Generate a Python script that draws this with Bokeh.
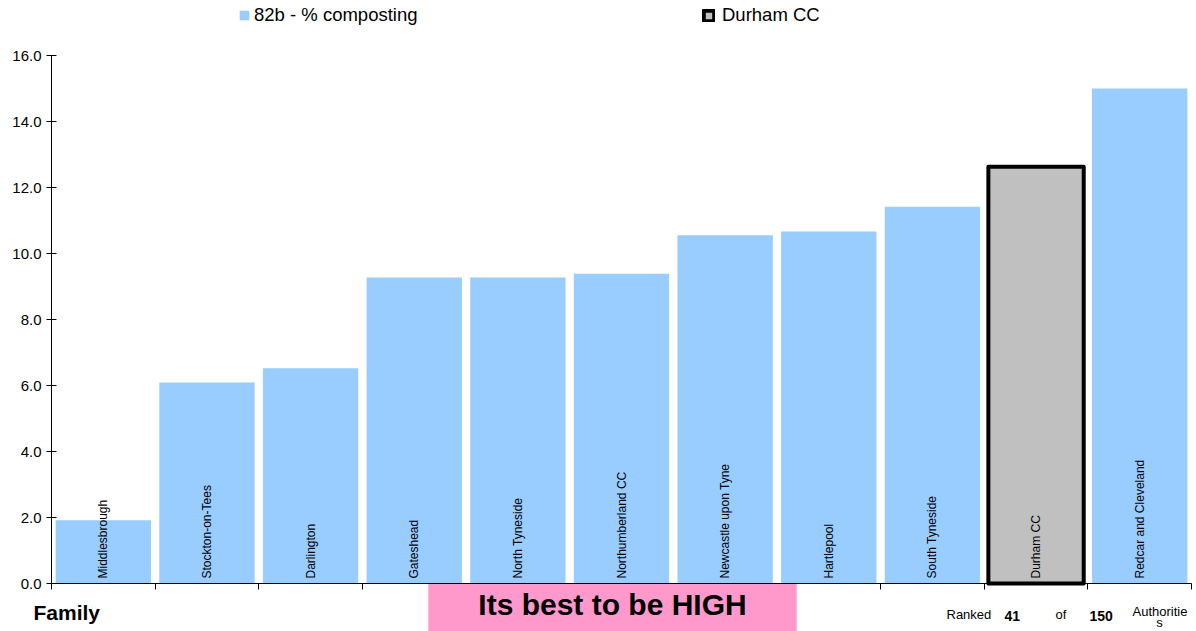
import math
from bokeh.plotting import figure
from bokeh.models import (Range1d, FixedTicker, PrintfTickFormatter, Legend, LegendItem,
                          Label, ColumnDataSource)
from bokeh.core.properties import value
from bokeh.embed import file_html
from bokeh.resources import INLINE

# ---- data ----
names = ["Middlesbrough", "Stockton-on-Tees", "Darlington", "Gateshead", "North Tyneside",
         "Northumberland CC", "Newcastle upon Tyne", "Hartlepool", "South Tyneside",
         "Durham CC", "Redcar and Cleveland"]
values = [1.92, 6.09, 6.52, 9.27, 9.27, 9.39, 10.55, 10.67, 11.42, 12.63, 15.0]
series_name = "82b - % composting"
highlight = "Durham CC"
y_ticks = [0, 2, 4, 6, 8, 10, 12, 14, 16]
family_label = "Family"
banner = "Its best to be HIGH"
rank = 41
total = 150
auth_word = ["Authoritie", "s"]

FONT = "Liberation Sans"
BLUE = "#99CCFF"
GREY = "#C0C0C0"
W, H = 1196, 631

n = len(names)
xs = [i + 0.5 for i in range(n)]
main_idx = [i for i in range(n) if names[i] != highlight]
hi_idx = [i for i in range(n) if names[i] == highlight]

src_main = ColumnDataSource(dict(x=[xs[i] for i in main_idx], top=[values[i] for i in main_idx]))
src_hi = ColumnDataSource(dict(x=[xs[i] for i in hi_idx], top=[values[i] for i in hi_idx]))
src_lab = ColumnDataSource(dict(x=xs, y=[0] * n, text=names))

# frame covers whole canvas; axes are pinned at data 0 (fixed_location)
px_x = (1191 - 51) / n          # pixels per category
px_y = (583 - 55) / 16.0        # pixels per unit
x_range = Range1d(-51 / px_x, n + (W - 1191) / px_x)
y_range = Range1d(-(H - 583) / px_y, 16 + 55 / px_y)

p = figure(width=W, height=H, output_backend="svg", toolbar_location=None,
           x_range=x_range, y_range=y_range,
           min_border_left=0, min_border_right=0, min_border_top=0, min_border_bottom=0)
p.xgrid.visible = False
p.ygrid.visible = False
p.outline_line_color = None
p.background_fill_color = "white"
p.border_fill_color = "white"

r_main = p.vbar(x="x", top="top", width=0.92, source=src_main, fill_color=BLUE, line_color=None)
r_hi = p.vbar(x="x", top="top", width=0.92, source=src_hi, fill_color=GREY,
              line_color="black", line_width=4, line_join="round")

p.text(x="x", y="y", text="text", source=src_lab, angle=math.pi / 2,
       text_align="left", text_baseline="middle", y_offset=-5,
       text_font=value(FONT), text_font_size="12px", text_color="black")

# axes
p.yaxis.fixed_location = 0
p.yaxis.bounds = (0, 16)
p.yaxis.ticker = FixedTicker(ticks=y_ticks)
p.yaxis.formatter = PrintfTickFormatter(format="%.1f")
p.yaxis.major_label_text_font = FONT
p.yaxis.major_label_text_font_size = "15px"
p.yaxis.major_label_text_color = "black"
p.yaxis.major_tick_in = 5
p.yaxis.major_tick_out = 5
p.yaxis.minor_tick_line_color = None
p.yaxis.axis_line_color = "black"
p.yaxis.major_tick_line_color = "black"
p.yaxis.major_label_standoff = 5

p.xaxis.fixed_location = 0
p.xaxis.bounds = (0, n)
p.xaxis.ticker = FixedTicker(ticks=[], minor_ticks=list(range(n + 1)))
p.xaxis.minor_tick_in = 0
p.xaxis.minor_tick_out = 6
p.xaxis.minor_tick_line_color = "black"
p.xaxis.major_tick_line_color = None
p.xaxis.axis_line_color = "black"

# legends (two separate entries placed above the bars)
def make_legend(label, renderer, loc, gw, standoff):
    return Legend(items=[LegendItem(label=label, renderers=[renderer])], location=loc,
                  orientation="horizontal", padding=0, margin=0, spacing=0,
                  glyph_width=gw, glyph_height=gw, label_standoff=standoff, label_height=12,
                  label_text_font=FONT, label_text_font_size="18.5px",
                  label_text_color="black", label_text_baseline="middle",
                  background_fill_alpha=0, border_line_alpha=0)

p.add_layout(make_legend(series_name, r_main, (238, H - 26), 12, 4))
p.add_layout(make_legend(highlight, r_hi, (702, H - 26), 13, 7))

# bottom annotations (screen units measured from the canvas bottom-left)
def lab(text, x, y, size, bold=False, align="left", baseline="alphabetic", **kw):
    p.add_layout(Label(x=x, y=y, x_units="screen", y_units="screen", text=text,
                       text_font=FONT, text_font_size=size,
                       text_font_style="bold" if bold else "normal",
                       text_color="black", text_align=align, text_baseline=baseline, **kw))

lab(family_label, 33, 19, "21px", bold=True)
lab(banner, 612, 21, "30px", bold=True, align="center",
    background_fill_color="#FF99CC",
    padding=dict(left=50, right=50, top=4, bottom=16))
lab("Ranked", 946, 17, "13px")
lab(str(rank), 1004, 16, "14px", bold=True)
lab("of", 1055, 17, "13px")
lab(str(total), 1089, 16, "14px", bold=True)
lab(auth_word[0], 1132, 20, "13px")
lab(auth_word[1], 1159, 9, "13px", align="center")

open("out.html", "w").write(file_html(p, INLINE))
